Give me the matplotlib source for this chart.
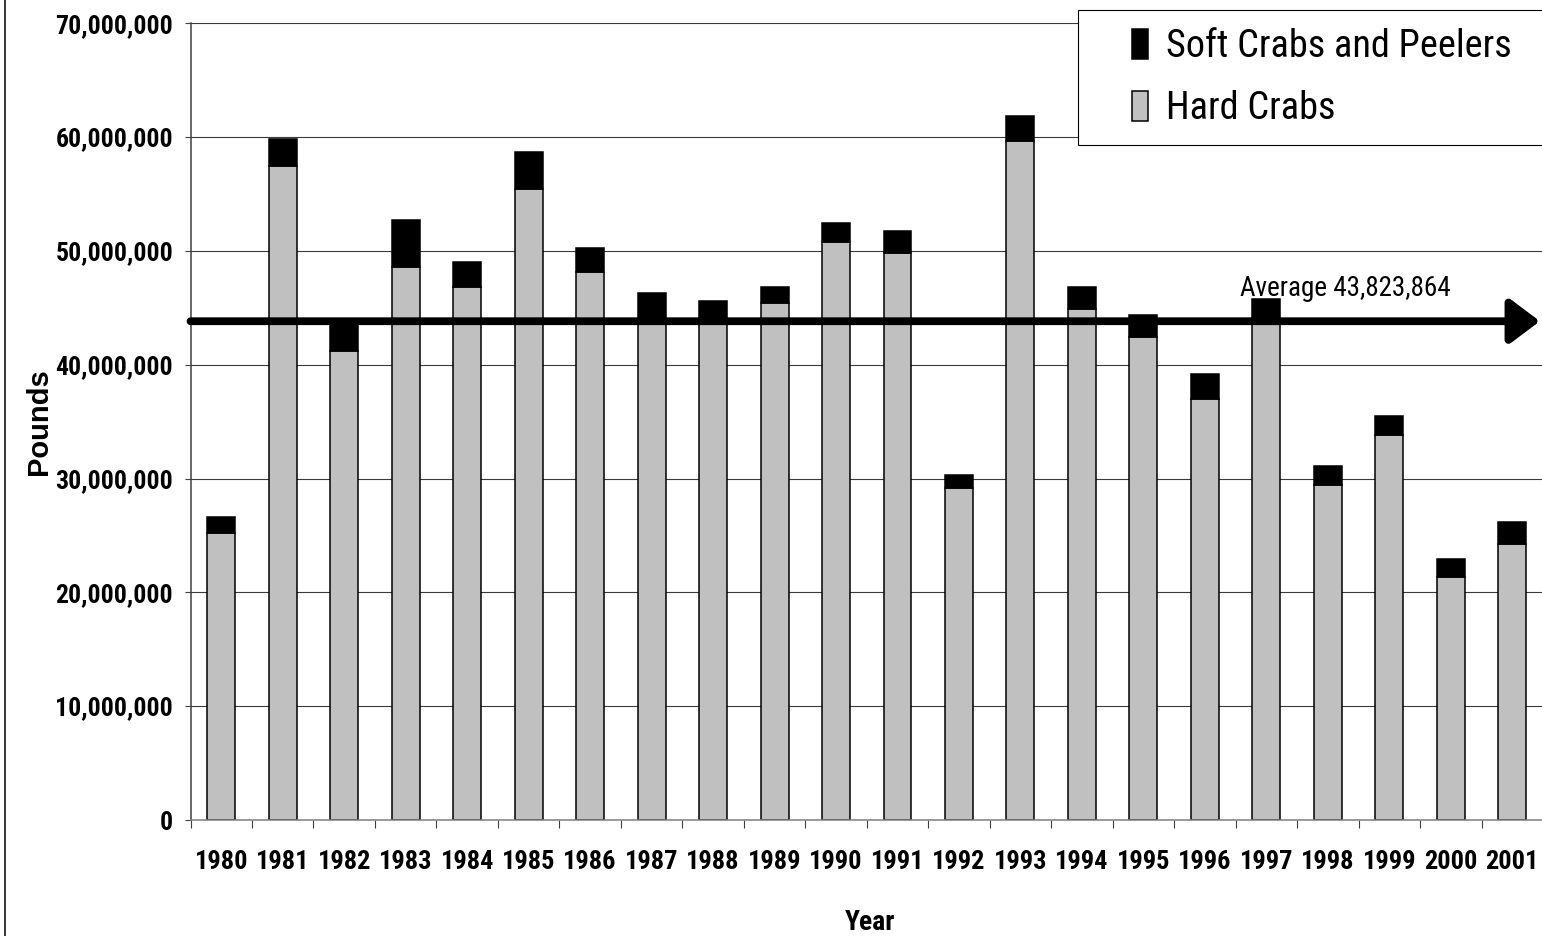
import numpy as np
import matplotlib
matplotlib.use("Agg")
import matplotlib.pyplot as plt
from matplotlib.lines import Line2D
from matplotlib.container import BarContainer
from matplotlib.legend_handler import HandlerPatch, update_from_first_child
from matplotlib.ticker import FuncFormatter, FixedLocator, NullFormatter

plt.rcParams['font.family'] = ['Roboto Condensed', 'Liberation Sans', 'DejaVu Sans']

# Annual landings, pounds
years = [str(y) for y in range(1980, 2002)]
hard_crabs = [25_220_000, 57_450_000, 41_230_000, 48_560_000, 46_860_000, 55_460_000,
              48_120_000, 44_130_000, 44_130_000, 45_390_000, 50_790_000, 49_790_000,
              29_170_000, 59_640_000, 44_890_000, 42_460_000, 37_030_000, 43_900_000,
              29_430_000, 33_860_000, 21_330_000, 24_270_000]
soft_peelers = [1_430_000, 2_410_000, 2_640_000, 4_140_000, 2_170_000, 3_200_000,
                2_140_000, 2_200_000, 1_440_000, 1_410_000, 1_670_000, 1_940_000,
                1_140_000, 2_190_000, 1_910_000, 1_910_000, 2_140_000, 1_900_000,
                1_640_000, 1_680_000, 1_620_000, 1_900_000]
average = 43_823_864

fig = plt.figure(figsize=(15.42, 9.36), dpi=100)
ax = fig.add_axes([190.5 / 1542, 1 - 820 / 936, 1352.5 / 1542, 796.7 / 936])

x = np.arange(len(years))
w = 0.455
hard = ax.bar(x, hard_crabs, w, color='#c0c0c0', edgecolor='black', linewidth=1.1,
              label='Hard Crabs', zorder=2)
soft = ax.bar(x, soft_peelers, w, bottom=hard_crabs, color='black', edgecolor='black',
              linewidth=1.1, label='Soft Crabs and Peelers', zorder=2)

ax.set_xlim(-0.5, len(years) - 0.5)
ax.set_ylim(0, 70_000_000)
ax.set_yticks(np.arange(0, 70_000_001, 10_000_000))
ax.yaxis.set_major_formatter(FuncFormatter(lambda v, p: f'{v:,.0f}'))
ax.yaxis.grid(True, color='#3a3a3a', linewidth=0.8, zorder=0)
ax.set_axisbelow(True)

# category labels centred on bars, tick marks between categories
ax.xaxis.set_major_locator(FixedLocator(np.arange(-0.5, len(years), 1.0)))
ax.xaxis.set_major_formatter(NullFormatter())
ax.xaxis.set_minor_locator(FixedLocator(x))
ax.set_xticklabels(years, minor=True)
ax.tick_params(axis='x', which='major', direction='out', length=5.5, width=0.8, color='#404040')
ax.tick_params(axis='x', which='minor', length=0, pad=21.5, labelsize=19)
ax.tick_params(axis='y', direction='out', length=4.5, width=0.8, color='#404040', pad=8,
               labelsize=18.5)
for lbl in ax.get_xticklabels(minor=True) + ax.get_yticklabels():
    lbl.set_fontweight('bold')

for side in ('top', 'right'):
    ax.spines[side].set_visible(False)
ax.spines['left'].set_color('#404040')
ax.spines['left'].set_linewidth(1.1)
ax.spines['bottom'].set_color('#808080')
ax.spines['bottom'].set_linewidth(1.1)

ax.set_ylabel('Pounds', fontsize=21, fontweight='bold',
              family=['Liberation Sans', 'DejaVu Sans'])
ax.yaxis.set_label_coords(-0.1016, 0.5)
ax.set_xlabel('Year', fontsize=20, fontweight='bold')
ax.xaxis.set_label_coords(0.5024, -0.1112)

# average arrow
ax.annotate('', xy=(21.45, average), xytext=(-0.5, average),
            arrowprops=dict(arrowstyle='-|>,head_length=0.6,head_width=0.45',
                            mutation_scale=30, lw=5.6, color='black',
                            shrinkA=0, shrinkB=0), zorder=4)
ax.annotate(f'Average {average:,}', xy=(16.57, average), xytext=(0, 14),
            textcoords='offset points', ha='left', va='bottom', fontsize=19.5, zorder=4)

fs = 27.5
leg = ax.legend([soft, hard], ['Soft Crabs and Peelers', 'Hard Crabs'],
                loc='upper left', bbox_to_anchor=(1078 / 1542, 0.5, 0.35, 1 - 10 / 936 - 0.5),
                bbox_transform=fig.transFigure, mode='expand', borderaxespad=0,
                fontsize=fs, frameon=True, fancybox=False, edgecolor='black',
                framealpha=1, borderpad=0.474, labelspacing=0.66,
                handlelength=1.35, handleheight=0.82, handletextpad=0.474,
                handler_map={BarContainer: HandlerPatch(xpad=0.95,
                                                        update_func=update_from_first_child)})
leg.get_frame().set_linewidth(0.8)
leg.set_zorder(5)

# outer chart border (left edge)
fig.add_artist(Line2D([5 / 1542, 5 / 1542], [0, 1], transform=fig.transFigure,
                      color='black', linewidth=1.1))

fig.savefig('out.png', dpi=100)
